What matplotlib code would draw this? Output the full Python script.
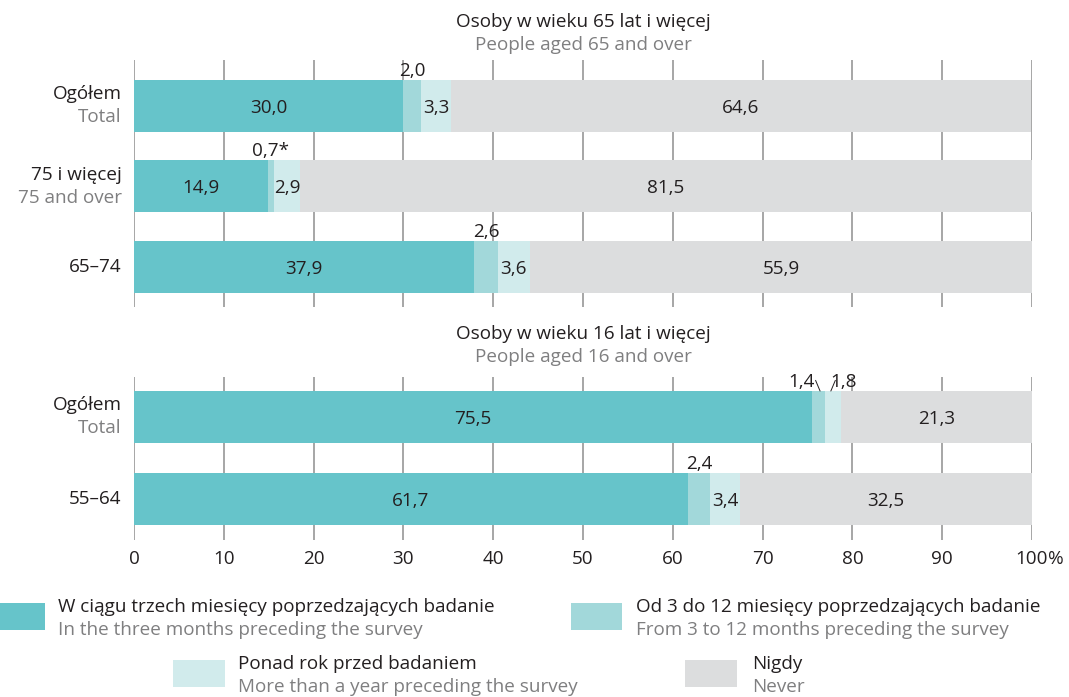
import matplotlib.pyplot as plt
from matplotlib.patches import Rectangle

plt.rcParams['font.family'] = ['Open Sans', 'DejaVu Sans']

W, H = 1069, 697

# data
top_title = ["Osoby w wieku 65 lat i więcej", "People aged 65 and over"]
top_cats_pl = ["Ogółem", "75 i więcej", "65–74"]
top_cats_en = ["Total", "75 and over", ""]
top_recent = [30.0, 14.9, 37.9]
top_mid = [2.0, 0.7, 2.6]
top_year = [3.3, 2.9, 3.6]
top_never = [64.6, 81.5, 55.9]
top_labels_mid = ["2,0", "0,7*", "2,6"]

bot_title = ["Osoby w wieku 16 lat i więcej", "People aged 16 and over"]
bot_cats_pl = ["Ogółem", "55–64"]
bot_cats_en = ["Total", ""]
bot_recent = [75.5, 61.7]
bot_mid = [1.4, 2.4]
bot_year = [1.8, 3.4]
bot_never = [21.3, 32.5]

xticks = [0, 10, 20, 30, 40, 50, 60, 70, 80, 90, 100]

legend_pl = ["W ciągu trzech miesięcy poprzedzających badanie",
             "Od 3 do 12 miesięcy poprzedzających badanie",
             "Ponad rok przed badaniem",
             "Nigdy"]
legend_en = ["In the three months preceding the survey",
             "From 3 to 12 months preceding the survey",
             "More than a year preceding the survey",
             "Never"]

colors = ["#66C4CA", "#A2D8DA", "#D1EBEC", "#DCDDDE"]
DARK = "#231F20"
GREY = "#7F7F80"
GRID = "#8E8E8E"
FS = 13.6


def fmt(v):
    return f"{v:.1f}".replace(".", ",")


fig = plt.figure(figsize=(W / 100, H / 100), dpi=100)


def px_axes(top, bottom):
    return fig.add_axes([134 / W, 1 - bottom / H, (1032 - 134) / W, (bottom - top) / H])


def draw_panel(ax, series, cats_pl, cats_en, ylim, bar_h, label_mid=None,
               offsets=None, show_x=False):
    n = len(cats_pl)
    ys = list(range(n))
    ax.set_xlim(0, 100)
    ax.set_ylim(*ylim)
    for x in xticks:
        ax.axvline(x, color=GRID, lw=1.1, zorder=0)
    left = [0.0] * n
    for k, vals in enumerate(series):
        ax.barh(ys, vals, left=left, height=bar_h, color=colors[k], zorder=2, linewidth=0)
        for i, v in enumerate(vals):
            cx = left[i] + v / 2
            txt = fmt(v) if label_mid is None or k != 1 else label_mid[i]
            if v >= 2.8:
                ax.text(cx, i + 0.02, txt, ha="center", va="center", fontsize=FS,
                        color=DARK, zorder=3)
            else:
                dx = 0
                if offsets and (i, k) in offsets:
                    dx = offsets[(i, k)]
                top = i - bar_h / 2
                ax.annotate(txt, xy=(cx, top), xytext=(dx, 0), textcoords="offset points",
                            ha="center", va="bottom", fontsize=FS, color=DARK, zorder=3)
                if dx:
                    ax.annotate("", xy=(cx + (0.2 if dx < 0 else -0.2), top),
                                xytext=(cx + (-0.3 if dx < 0 else 0.3), top - 0.13),
                                arrowprops=dict(arrowstyle="-", color=DARK, lw=0.7,
                                                shrinkA=0, shrinkB=0))
            left[i] += v
    for i in ys:
        if cats_en[i]:
            ax.annotate(cats_pl[i], xy=(0, i), xytext=(-9, 8.5), textcoords="offset points",
                        xycoords=("axes fraction", "data"), ha="right", va="center",
                        fontsize=FS, color=DARK)
            ax.annotate(cats_en[i], xy=(0, i), xytext=(-9, -8), textcoords="offset points",
                        xycoords=("axes fraction", "data"), ha="right", va="center",
                        fontsize=FS, color=GREY)
        else:
            ax.annotate(cats_pl[i], xy=(0, i), xytext=(-9, 0), textcoords="offset points",
                        xycoords=("axes fraction", "data"), ha="right", va="center",
                        fontsize=FS, color=DARK)
    for s in ax.spines.values():
        s.set_visible(False)
    ax.set_yticks([])
    if show_x:
        ax.set_xticks(xticks)
        ax.set_xticklabels([str(x) for x in xticks])
        ax.tick_params(axis="x", length=0, pad=7, labelsize=FS, labelcolor=DARK)
        ax.annotate("%", xy=(100, 0), xycoords=("data", "axes fraction"), xytext=(11.5, -7),
                    textcoords="offset points", ha="left", va="top", fontsize=FS, color=DARK)
    else:
        ax.set_xticks([])
    return ax


ax1 = px_axes(60, 307)
draw_panel(ax1, [top_recent, top_mid, top_year, top_never], top_cats_pl, top_cats_en,
           (2.497, -0.571), 0.646, label_mid=top_labels_mid)

ax2 = px_axes(377, 540)
draw_panel(ax2, [bot_recent, bot_mid, bot_year, bot_never], bot_cats_pl, bot_cats_en,
           (1.5, -0.488), 0.634, offsets={(0, 1): -12, (0, 2): 8}, show_x=True)

# panel titles
cx = (134 + 1032) / 2 / W
for title, y0 in [(top_title, 22), (bot_title, 334)]:
    fig.text(cx, 1 - y0 / H, title[0], ha="center", va="center", fontsize=FS, color=DARK)
    fig.text(cx, 1 - (y0 + 23) / H, title[1], ha="center", va="center", fontsize=FS, color=GREY)

# legend
leg_pos = [(0, 603, 45, 58), (571, 603, 51, 636), (173, 660, 52, 238), (685, 660, 52, 752)]
for k, (x0, y0, w, tx) in enumerate(leg_pos):
    fig.add_artist(Rectangle((x0 / W, 1 - (y0 + 27) / H), w / W, 27 / H,
                             transform=fig.transFigure, color=colors[k], lw=0))
    fig.text(tx / W, 1 - (y0 + 4) / H, legend_pl[k], ha="left", va="center",
             fontsize=FS, color=DARK)
    fig.text(tx / W, 1 - (y0 + 27) / H, legend_en[k], ha="left", va="center",
             fontsize=FS, color=GREY)

fig.savefig("out.png", dpi=100)
